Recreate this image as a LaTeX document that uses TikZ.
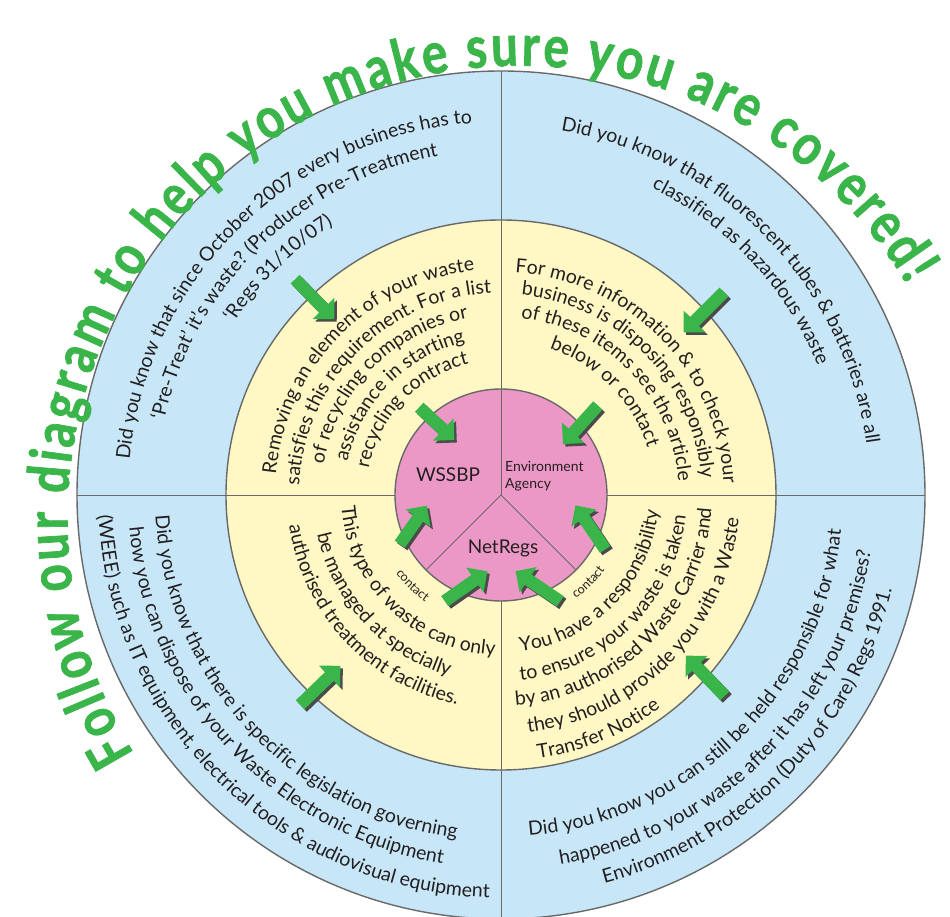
\documentclass[tikz,border=0pt]{standalone}
\usepackage{fontspec}
\setmainfont{Lato}
\newfontfamily\titlefam{Lato}[FakeStretch=0.82,FakeBold=1.2]
\usepackage{tikz}
\usetikzlibrary{decorations.text,shapes.arrows}

\definecolor{ringblue}{RGB}{199,231,248}
\definecolor{ringyellow}{RGB}{255,247,196}
\definecolor{hubpink}{RGB}{236,152,198}
\definecolor{edgegray}{RGB}{105,105,105}
\definecolor{leafgreen}{RGB}{57,181,74}
\definecolor{shadegray}{RGB}{75,75,75}
\definecolor{inkgray}{RGB}{35,31,32}

\newcommand{\bodyfont}{\fontsize{19.5pt}{20pt}\selectfont\color{inkgray}}
\newcommand{\smallfont}{\fontsize{12.5pt}{13pt}\selectfont\color{inkgray}}
\newcommand{\titlefont}{\titlefam\fontsize{58pt}{58pt}\selectfont\bfseries\color{leafgreen}}

% one line of text on a clockwise arc (upper half): radius, centre angle, text
\newcommand{\cwline}[4][\bodyfont]{%
  \path[decorate,decoration={text along path,text align=center,text={|#1|#4}}]
    (#3+75:#2) arc[start angle=#3+75,end angle=#3-75,radius=#2pt];}
% the same on a counter-clockwise arc (lower half)
\newcommand{\ccwline}[4][\bodyfont]{%
  \path[decorate,decoration={text along path,text align=center,text={|#1|#4}}]
    (#3-75:#2) arc[start angle=#3-75,end angle=#3+75,radius=#2pt];}
% counter-clockwise, starting at a given angle
\newcommand{\ccwleft}[3]{%
  \path[decorate,decoration={text along path,text={|\bodyfont|#3}}]
    (#2:#1) arc[start angle=#2,end angle=#2+110,radius=#1pt];}

\tikzset{
  ringline/.style={draw=edgegray, line width=1.4pt},
  splitline/.style={draw=edgegray, line width=0.9pt},
  hublabel/.style={font=\fontsize{19pt}{21pt}\selectfont, text=inkgray, inner sep=1pt},
  arrowbody/.style={single arrow, single arrow tip angle=90, single arrow head extend=9pt,
    inner xsep=0pt, inner ysep=6pt, fill=leafgreen},
  arrowshade/.style={arrowbody, fill=shadegray},
}

\begin{document}
\begin{tikzpicture}[x=1pt,y=1pt]
\fill[white] (-501,-422) rectangle (449,495);
\useasboundingbox (-501,-422) rectangle (449,495);

% rings
\filldraw[ringline, fill=ringblue] (0,0) circle[radius=424pt];
\filldraw[ringline, fill=ringyellow] (0,0) circle[radius=275pt];
\filldraw[ringline, fill=hubpink] (0,0) circle[radius=106pt];
\foreach \a in {0,90,180,270} {
  \draw[splitline] (\a:106) -- (\a:424);
}
\foreach \a in {90,225,315} {
  \draw[splitline] (0,0) -- (\a:106);
}

% hub labels
\node[hublabel] (wssbp) at (-53,20) {WSSBP};
\node[hublabel, font=\fontsize{14pt}{17pt}\selectfont, anchor=west, align=left] (agency) at (3,19) {Environment\\Agency};
\node[hublabel] (netregs) at (2,-53) {NetRegs};

% green arrows: x/y/angle/length
\foreach \x/\y/\a/\l [count=\i] in {-188.5/198/-45.7/56, -66.5/73.5/-43/48, 205/185/-135/57,
    81.5/72.5/-132/52, -183/-192.5/44/56, -89.5/-32.5/55/47, -37.5/-93/35/52,
    39.5/-93/146/54, 91/-35/124/53, 206.5/-183/134/56} {
  \node[arrowshade, rotate=\a, minimum height=\l] at (\x+2.5,\y-2.5) {};
  \node[arrowbody, rotate=\a, minimum height=\l] (arrow\i) at (\x,\y) {};
}

% title round the top
\path[decorate,decoration={text along path,text align={fit to path},
    text={|\titlefont|Follow our diagram to help you make sure you are covered!}}]
  (18.6,-22.7) ++(211.5:452) arc[start angle=211.5,end angle=31,radius=452pt];

% blue ring
\cwline{373}{134.5}{Did you know that since October 2007 every business has to}
\cwline{345}{134}{‘Pre-Treat’ it’s waste? (Producer Pre-Treatment}
\cwline{318}{134.5}{‘Regs 31/10/07)}
\cwline{369}{44.3}{Did you know that fluorescent tubes {\&} batteries are all}
\cwline{342}{43}{classified as hazardous waste}
\ccwline{346}{223}{Did you know that there is specific legislation governing}
\ccwline{373}{223}{how you can dispose of your Waste Electronic Equipment}
\ccwline{403}{225.6}{(WEEE) such as IT equipment, electrical tools {\&} audiovisual equipment}
\ccwline{342}{314.4}{Did you know you can still be held responsible for what}
\ccwline{374}{315.3}{happened to your waste after it has left your premises?}
\ccwline{402}{315.7}{Environment Protection (Duty of Care) Regs 1991.}

% yellow ring
\cwline{226}{135.7}{Removing an element of your waste}
\cwline{202}{135}{satisfies this requirement. For a list}
\cwline{180}{135.3}{of recycling companies or}
\cwline{157}{135.5}{assistance in starting}
\cwline{135}{136.2}{recycling contract}
\cwline{223}{44.7}{For more information {\&} to check your}
\cwline{201}{44.5}{business is disposing responsibly}
\cwline{178}{44}{of these items see the article}
\cwline{154}{44.7}{below or contact}
\ccwline{160}{226}{This type of waste can only}
\ccwline{188}{223}{be managed at specially}
\ccwline{214}{223.2}{authorised treatment facilities.}
\ccwleft{158}{277}{You have a responsibility}
\ccwleft{186}{276}{to ensure your waste is taken}
\ccwleft{211}{274}{by an authorised Waste Carrier and}
\ccwleft{239}{276.5}{they should provide you with a Waste}
\ccwleft{266}{278}{Transfer Notice}

% small labels by the hub
\ccwline[\smallfont]{131}{225.6}{contact}
\ccwline[\smallfont]{128}{315}{contact}
\end{tikzpicture}
\end{document}
